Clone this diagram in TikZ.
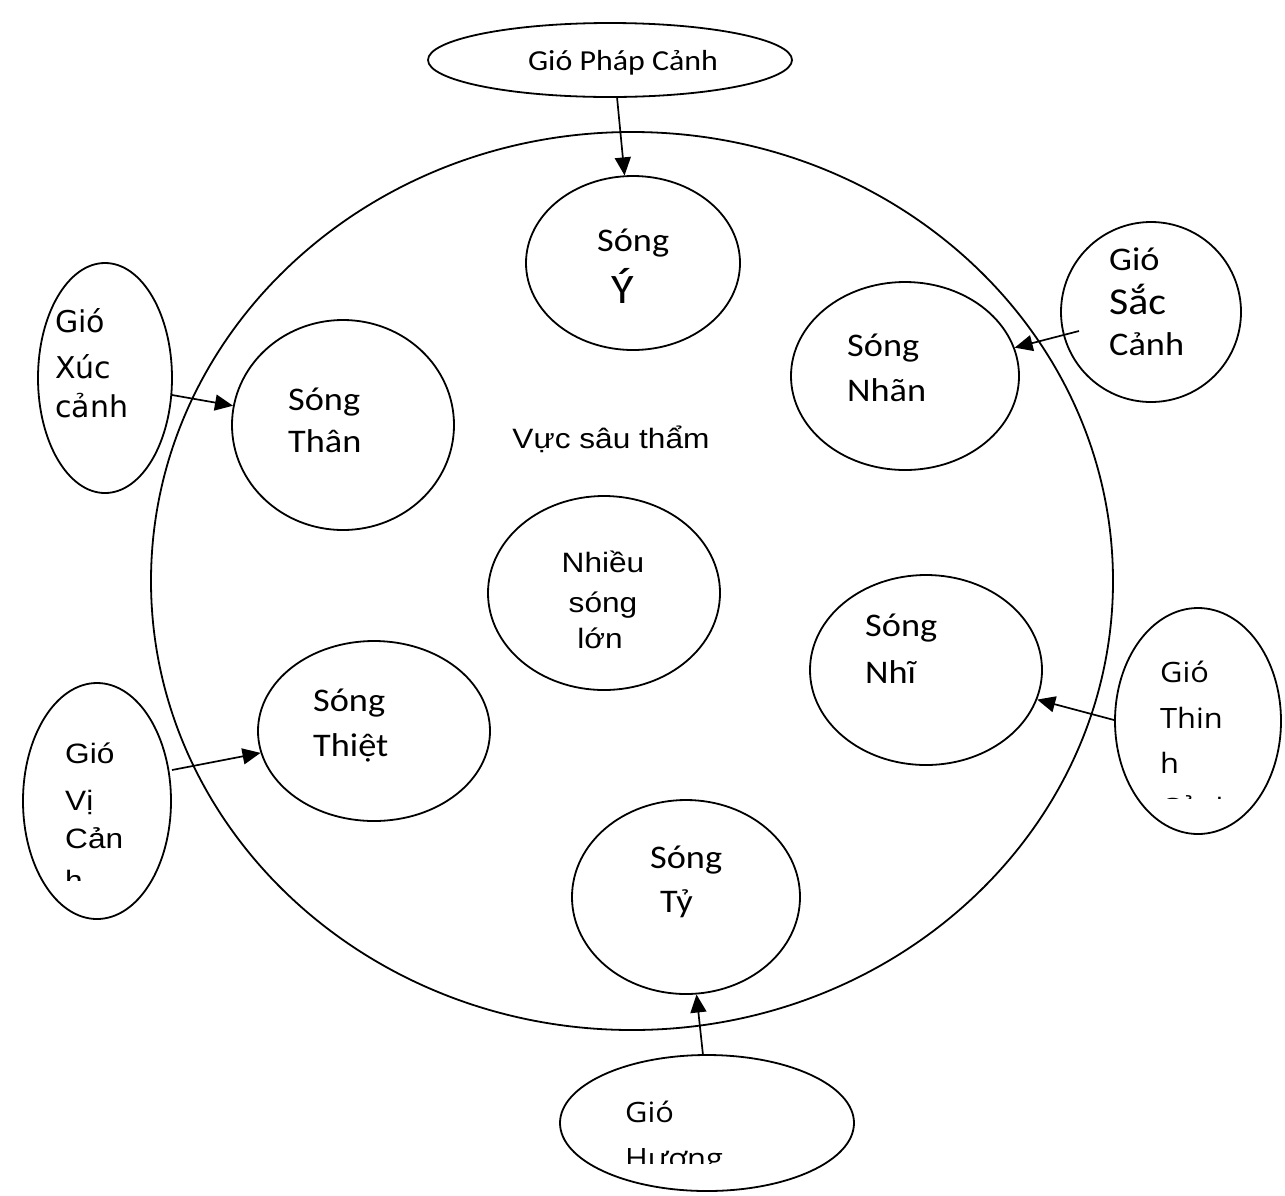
\documentclass[tikz,border=0pt]{standalone}
\usepackage{fontspec}
\setmainfont{Carlito}[FakeStretch=1.1]
\newfontfamily\verd{DejaVu Sans}
\newfontfamily\arial{Liberation Sans}[FakeStretch=1.13]
\newfontfamily\segoe{Open Sans}[FakeStretch=1.1]
\usetikzlibrary{shapes.geometric,arrows.meta}

\tikzset{
  bubble/.style={draw, ellipse, line width=1.8pt, inner sep=0pt},
  arr/.style={line width=1.7pt, -{Triangle[length=18pt,width=16pt]}},
  word/.style={anchor=base west, inner sep=0pt, font=\fontsize{33}{40}\selectfont},
  bigword/.style={word, font=\fontsize{38}{44}\selectfont},
  verdword/.style={word, font=\verd\fontsize{30}{36}\selectfont},
  arialword/.style={word, font=\arial\fontsize{28}{34}\selectfont},
  segword/.style={word, font=\segoe\fontsize{28}{34}\selectfont},
}

\begin{document}
\begin{tikzpicture}[x=1pt,y=-1pt]
\useasboundingbox (0,0) rectangle (1285,1195);

% the abyss and its waves
\node[bubble, minimum width=962pt, minimum height=898pt] (abyss) at (632,581) {};
\node[bubble, minimum width=364pt, minimum height=74pt]  (phap)  at (610,60)  {};
\node[bubble, minimum width=214pt, minimum height=174pt] (y)     at (633,263) {};
\node[bubble, minimum width=228pt, minimum height=188pt] (nhan)  at (905,376) {};
\node[bubble, minimum width=180pt, minimum height=180pt] (sac)   at (1151,312) {};
\node[bubble, minimum width=134pt, minimum height=230pt] (xuc)   at (105,378) {};
\node[bubble, minimum width=222pt, minimum height=210pt] (than)  at (343,425) {};
\node[bubble, minimum width=232pt, minimum height=194pt] (nhieu) at (604,593) {};
\node[bubble, minimum width=232pt, minimum height=190pt] (nhi)   at (926,670) {};
\node[bubble, minimum width=166pt, minimum height=226pt] (thinh) at (1198,721) {};
\node[bubble, minimum width=232pt, minimum height=180pt] (thiet) at (374,731) {};
\node[bubble, minimum width=148pt, minimum height=236pt] (vi)    at (97,801)  {};
\node[bubble, minimum width=228pt, minimum height=194pt] (ty)    at (686,897) {};
\node[bubble, minimum width=294pt, minimum height=136pt] (huong) at (707,1123) {};

% labels
\node[word, anchor=base, font=\fontsize{29}{35}\selectfont] (phapT) at (623,70) {Gió Pháp Cảnh};

\node[word] (yT1) at (597,251) {Sóng};
\node[word, font=\fontsize{42}{48}\selectfont] (yT2) at (611,303) {Ý};

\node[word] (sacT1) at (1109,270) {Gió};
\node[bigword] (sacT2) at (1109,314) {Sắc};
\node[word] (sacT3) at (1109,355) {Cảnh};

\node[word] (nhanT1) at (847,356) {Sóng};
\node[word] (nhanT2) at (847,401) {Nhãn};

\node[verdword] (xucT1) at (55,332) {Gió};
\node[verdword] (xucT2) at (55,378) {Xúc};
\node[verdword] (xucT3) at (55,417) {cảnh};

\node[word] (thanT1) at (288,410) {Sóng};
\node[word] (thanT2) at (288,452) {Thân};

\node[arialword, anchor=base] (vucT) at (611,448) {Vực sâu thẩm};

\node[arialword, anchor=base] (nhieuT1) at (603,572) {Nhiều};
\node[arialword, anchor=base] (nhieuT2) at (603,612) {sóng};
\node[arialword, anchor=base] (nhieuT3) at (600,648) {lớn};

\node[word] (nhiT1) at (865,636) {Sóng};
\node[word] (nhiT2) at (865,683) {Nhĩ};

\node[word] (thietT1) at (313,711) {Sóng};
\node[word] (thietT2) at (313,756) {Thiệt};

\node[word] (tyT1) at (650,868) {Sóng};
\node[word] (tyT2) at (660,912) {Tỷ};

% wind labels whose last line is cut off by the text frame
\begin{scope}
  \clip (1130,600) rectangle (1280,798);
  \node[segword] (thinhT1) at (1160,682) {Gió};
  \node[segword] (thinhT2) at (1160,728) {Thin};
  \node[segword] (thinhT3) at (1160,773) {h};
  \node[segword] (thinhT4) at (1160,818) {Cảnh};
\end{scope}

\begin{scope}
  \clip (30,700) rectangle (170,880);
  \node[arialword] (viT1) at (65,763) {Gió};
  \node[arialword] (viT2) at (65,810) {Vị};
  \node[arialword] (viT3) at (65,848) {Cản};
  \node[arialword] (viT4) at (65,890) {h};
\end{scope}

\begin{scope}
  \clip (580,1070) rectangle (840,1163);
  \node[segword] (huongT1) at (625,1122) {Gió};
  \node[segword] (huongT2) at (625,1168) {Hương};
\end{scope}

% wind arrows
\coordinate (phapS)  at (617,97);
\coordinate (sacS)   at (1079,331);
\coordinate (xucS)   at (172,395);
\coordinate (thinhS) at (1114,720);
\coordinate (viS)    at (172,770);
\coordinate (huongS) at (703,1055);

\draw[arr] (phapS)  -- (y);
\draw[arr] (sacS)   -- (nhan);
\draw[arr] (xucS)   -- (than);
\draw[arr] (thinhS) -- (nhi);
\draw[arr] (viS)    -- (thiet);
\draw[arr] (huongS) -- (ty);
\end{tikzpicture}
\end{document}
